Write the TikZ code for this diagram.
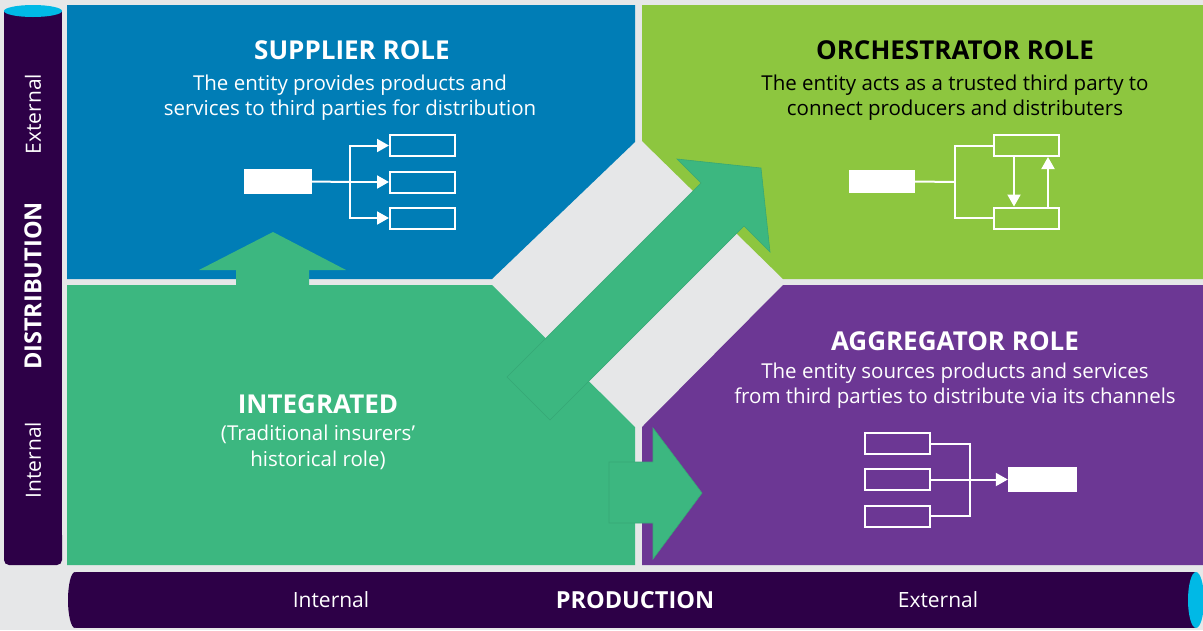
\documentclass[tikz,border=0pt]{standalone}
\usepackage{fontspec}
\setmainfont{Open Sans}
\usetikzlibrary{arrows.meta}
\definecolor{bggray}{HTML}{E6E7E8}
\definecolor{supblue}{HTML}{007DB6}
\definecolor{orchgreen}{HTML}{8DC63F}
\definecolor{integteal}{HTML}{3CB780}
\definecolor{aggpurple}{HTML}{6C3794}
\definecolor{bardark}{HTML}{2D0047}
\definecolor{capcyan}{HTML}{00B9E6}
\tikzset{
  roletitle/.style={font=\bfseries\fontsize{26}{28}\selectfont,anchor=base,inner sep=0},
  roletext/.style={font=\fontsize{20.5}{25}\selectfont,align=center,anchor=north,inner sep=0},
  bartext/.style={font=\fontsize{21}{24}\selectfont,text=white,inner sep=0},
  barhead/.style={bartext,font=\bfseries\fontsize{23.5}{26}\selectfont},
  solidbox/.style={fill=white,minimum width=68pt,minimum height=25pt,inner sep=0},
  openbox/.style={draw=white,line width=2pt,minimum width=65pt,minimum height=21pt,inner sep=0},
  wire/.style={draw=white,line width=2pt},
  wiretip/.style={-{Triangle[length=12pt,width=13pt]}},
  bigarrow/.style={fill=integteal,draw=integteal!92!black,line width=0.6pt}
}
\begin{document}
\begin{tikzpicture}[x=1pt,y=-1pt]
\useasboundingbox (0,0) rectangle (1203,630);
\fill[bggray] (0,0) rectangle (1203,630);
% quadrants
\fill[supblue] (67,5)--(635,5)--(635,142)--(492,279)--(67,279)--cycle;
\fill[orchgreen] (642,5)--(1203,5)--(1203,279)--(783,279)--(642,141)--cycle;
\fill[integteal] (67,285)--(492,285)--(635,427)--(635,565)--(67,565)--cycle;
\fill[aggpurple] (642,427)--(783,285)--(1203,285)--(1203,565)--(642,565)--cycle;
% moves between roles
\draw[bigarrow] (507,377)--(701,183)--(677,159)--(761,168)--(770,252)--(744,226)--(550,420)--cycle;
\fill[integteal] (236,288)--(236,270)--(199,270)--(273,232)--(346,270)--(309,270)--(309,288)--cycle;
\draw[bigarrow] (609,462)--(653,462)--(653,428)--(702,493)--(653,559)--(653,523)--(609,523)--cycle;
% axes
\fill[bardark] (4,11) rectangle (62,555);
\fill[bardark,rounded corners=5pt] (4,530) rectangle (62,565);
\fill[capcyan] (33,11) ellipse (29 and 6);
\fill[bardark] (76,572) rectangle (1196,628);
\fill[bardark] (75,600) ellipse (7 and 28);
\fill[capcyan] (1196,600) ellipse (8 and 28);
\node[bartext,rotate=90] (dext) at (33,114) {External};
\node[barhead,rotate=90] (dist) at (33,286) {DISTRIBUTION};
\node[bartext,rotate=90] (dint) at (33,460) {Internal};
\node[bartext] (pint) at (331,600) {Internal};
\node[barhead] (prod) at (635,600) {PRODUCTION};
\node[bartext] (pext) at (938,600) {External};
% supplier
\node[roletitle,text=white] (suptitle) at (352,59) {SUPPLIER ROLE};
\node[roletext,text=white] (suptext) at (350,75) {The entity provides products and\\services to third parties for distribution};
\node[solidbox] (sup0) at (278,181.5) {};
\foreach \i/\y in {1/145.5,2/182,3/218}
  \node[openbox] (sup\i) at (422.5,\y) {};
\coordinate (supj) at (350,182);
\draw[wire] (sup0.east) -- (supj);
\foreach \i in {1,2,3}
  \draw[wire,wiretip] (supj) |- (sup\i.west);
% orchestrator
\node[roletitle,text=black] (orchtitle) at (955,59) {ORCHESTRATOR ROLE};
\node[roletext,text=black] (orchtext) at (955,75) {The entity acts as a trusted third party to\\connect producers and distributers};
\node[solidbox,minimum width=66pt,minimum height=23pt] (orch0) at (882,181.5) {};
\node[openbox] (orch1) at (1026.5,145.5) {};
\node[openbox] (orch2) at (1026.5,218) {};
\coordinate (orchj) at (955,182);
\draw[wire] (orch0.east) -- (orchj);
\draw[wire] (orch1.west) -| (orchj) |- (orch2.west);
\draw[wire,wiretip] ([xshift=-12.5pt]orch1.south) -- ([xshift=-12.5pt]orch2.north);
\draw[wire,wiretip] ([xshift=21.5pt]orch2.north) -- ([xshift=21.5pt]orch1.south);
% aggregator
\node[roletitle,text=white] (aggtitle) at (955,350) {AGGREGATOR ROLE};
\node[roletext,text=white] (aggtext) at (955,363) {The entity sources products and services\\from third parties to distribute via its channels};
\foreach \i/\y in {1/443.5,2/479.5,3/516}
  \node[openbox] (agg\i) at (897.5,\y) {};
\node[solidbox,minimum width=69pt] (agg0) at (1042.5,479.5) {};
\coordinate (aggj) at (970,479.5);
\draw[wire] (agg1.east) -| (aggj) |- (agg3.east);
\draw[wire,wiretip] (agg2.east) -- (agg0.west);
% integrated
\node[roletitle,text=white] (integtitle) at (318,413) {INTEGRATED};
\node[roletext,text=white,font=\fontsize{20.5}{26}\selectfont] (integtext) at (318,425) {(Traditional insurers’\\historical role)};
\end{tikzpicture}
\end{document}
